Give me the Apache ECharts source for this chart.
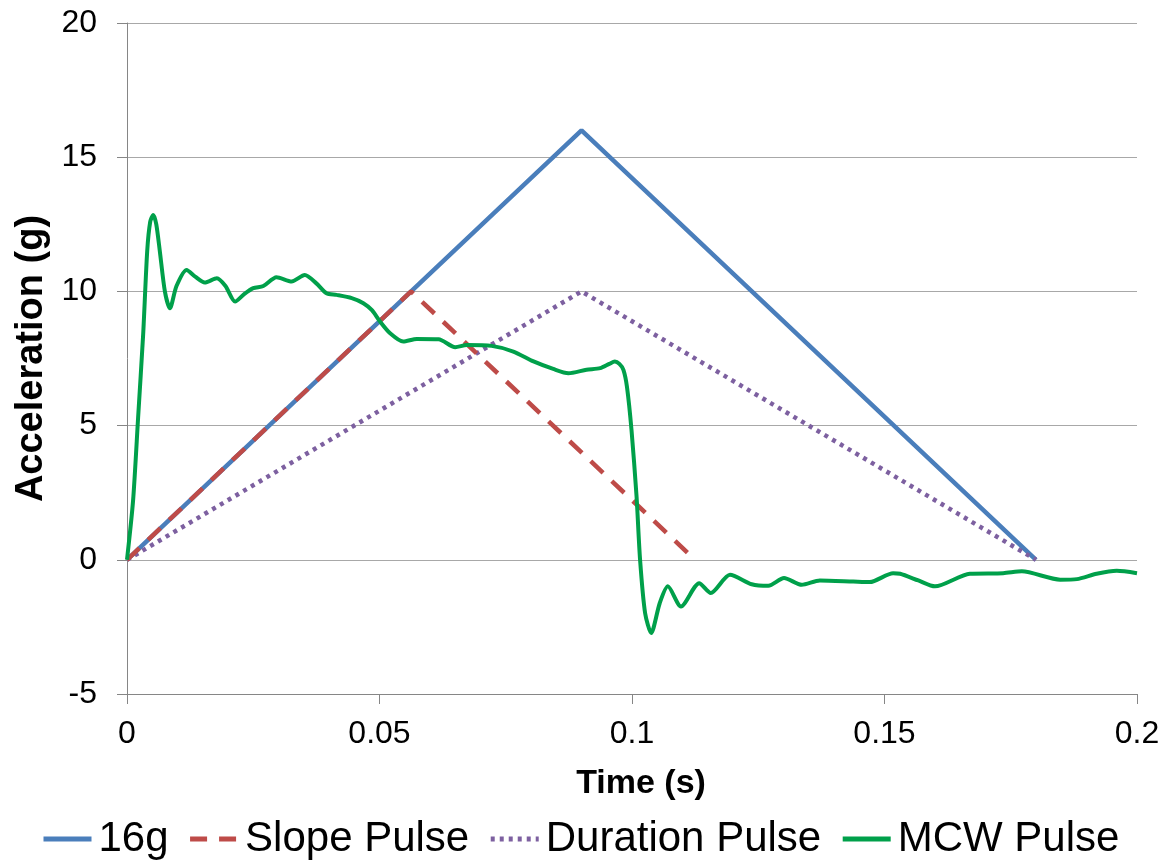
<!DOCTYPE html>
<html>
<head>
<meta charset="utf-8">
<script src="https://cdn.jsdelivr.net/npm/echarts@6/dist/echarts.min.js"></script>
<style>html,body{margin:0;padding:0;background:#fff;}#chart{width:1172px;height:865px;}</style>
</head>
<body>
<div id="chart"></div>
<script>
const seriesNames = ['16g', 'Slope Pulse', 'Duration Pulse', 'MCW Pulse'];

const t16g = [0, 0.09, 0.18];
const v16g = [0, 16, 0];

const tSlope = [0, 0.05625, 0.1125];
const vSlope = [0, 10, 0];

const tDuration = [0, 0.09, 0.18];
const vDuration = [0, 10, 0];

const tMCW = [0, 0.0012, 0.0022, 0.0032, 0.004, 0.0046, 0.0052, 0.0058, 0.0065, 0.0075, 0.0085, 0.0098, 0.0118, 0.0135, 0.0154, 0.0178, 0.0195, 0.0214, 0.0232, 0.025, 0.027, 0.0296, 0.0326, 0.0352, 0.0375, 0.0395, 0.0415, 0.0445, 0.0468, 0.0485, 0.0501, 0.0521, 0.0547, 0.0574, 0.0617, 0.065, 0.0673, 0.0722, 0.0765, 0.0805, 0.0844, 0.0874, 0.091, 0.0937, 0.0955, 0.0966, 0.0975, 0.0983, 0.099, 0.0999, 0.1009, 0.1016, 0.1026, 0.1038, 0.1055, 0.1071, 0.1097, 0.1133, 0.1156, 0.1194, 0.1237, 0.127, 0.1301, 0.1336, 0.1372, 0.1438, 0.1471, 0.1517, 0.1531, 0.1567, 0.16, 0.1669, 0.1735, 0.1772, 0.1848, 0.1881, 0.192, 0.196, 0.2];
const vMCW = [0, 2.2, 5.3, 8.4, 11.5, 12.6, 12.85, 12.5, 11.5, 10.0, 9.37, 10.2, 10.8, 10.55, 10.33, 10.49, 10.2, 9.62, 9.9, 10.12, 10.2, 10.53, 10.37, 10.61, 10.3, 9.93, 9.87, 9.75, 9.56, 9.3, 8.88, 8.44, 8.13, 8.23, 8.22, 7.92, 8.0, 7.97, 7.76, 7.39, 7.11, 6.95, 7.08, 7.14, 7.3, 7.39, 7.3, 7.08, 6.45, 4.84, 2.36, 0, -1.99, -2.73, -1.61, -0.99, -1.74, -0.87, -1.24, -0.56, -0.91, -0.97, -0.68, -0.93, -0.77, -0.81, -0.83, -0.50, -0.52, -0.77, -0.99, -0.52, -0.50, -0.43, -0.74, -0.72, -0.52, -0.41, -0.5];

const xTicks = {min: 0, max: 0.2, interval: 0.05};
const yTicks = {min: -5, max: 20, interval: 5};

function pairs(ts, vs) { return ts.map((t, i) => [t, vs[i]]); }

const font = 'Liberation Sans, Arial, sans-serif';
const chart = echarts.init(document.getElementById('chart'), null, {renderer: 'canvas'});
chart.setOption({
  animation: false,
  backgroundColor: '#ffffff',
  grid: {left: 127, right: 35, top: 23, bottom: 171, containLabel: false},
  legend: {
    left: 41, top: 818, padding: 0,
    itemWidth: 48, itemHeight: 14, itemGap: 19,
    itemStyle: {opacity: 0},
    lineStyle: {width: 5},
    textStyle: {fontFamily: font, fontSize: 42, color: '#000', padding: [0, 0, 0, 2]},
    data: seriesNames.map(n => ({name: n}))
  },
  xAxis: {
    type: 'value', min: xTicks.min, max: xTicks.max, interval: xTicks.interval,
    name: 'Time (s)', nameLocation: 'middle', nameGap: 73,
    nameTextStyle: {fontFamily: font, fontSize: 34, fontWeight: 'bold', color: '#000', padding: [0, 0, 0, 18]},
    axisLine: {onZero: false, lineStyle: {color: '#868686', width: 1}},
    axisTick: {show: true, inside: false, length: 10, lineStyle: {color: '#868686'}},
    axisLabel: {fontFamily: font, fontSize: 32, color: '#000', margin: 24},
    splitLine: {show: false}
  },
  yAxis: {
    type: 'value', min: yTicks.min, max: yTicks.max, interval: yTicks.interval,
    name: 'Acceleration (g)', nameLocation: 'middle', nameGap: 76, nameRotate: 90,
    nameTextStyle: {fontFamily: font, fontSize: 38, fontWeight: 'bold', color: '#000'},
    axisLine: {show: true, lineStyle: {color: '#868686', width: 1}},
    axisTick: {show: true, inside: false, length: 10, lineStyle: {color: '#868686'}},
    axisLabel: {fontFamily: font, fontSize: 32, color: '#000', margin: 30},
    splitLine: {show: true, lineStyle: {color: '#a8a8a8', width: 1}}
  },
  series: [
    {name: seriesNames[0], type: 'line', data: pairs(t16g, v16g), showSymbol: false, symbol: 'none',
     lineStyle: {color: '#4a7ebb', width: 4.5}, itemStyle: {color: '#4a7ebb'}, z: 2},
    {name: seriesNames[1], type: 'line', data: pairs(tSlope, vSlope), showSymbol: false, symbol: 'none',
     lineStyle: {color: '#be4b48', width: 4.5, type: [17, 12]}, itemStyle: {color: '#be4b48'}, z: 3},
    {name: seriesNames[2], type: 'line', data: pairs(tDuration, vDuration), showSymbol: false, symbol: 'none',
     lineStyle: {color: '#7d60a0', width: 4.5, type: [4, 5]}, itemStyle: {color: '#7d60a0'}, z: 2},
    {name: seriesNames[3], type: 'line', data: pairs(tMCW, vMCW), showSymbol: false, symbol: 'none', smooth: 0.25,
     lineStyle: {color: '#00a04a', width: 4}, itemStyle: {color: '#00a04a'}, z: 4}
  ]
});
</script>
</body>
</html>
